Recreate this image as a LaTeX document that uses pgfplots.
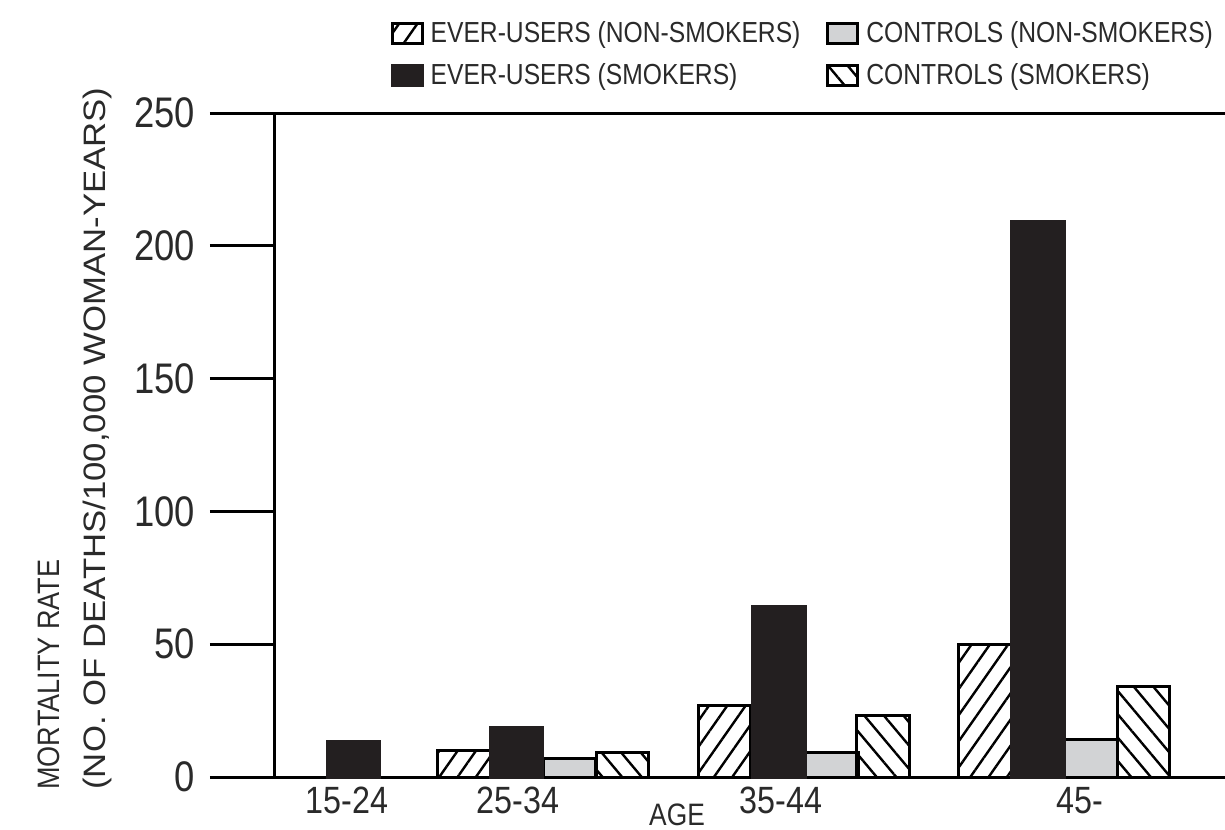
\documentclass[border=0pt]{standalone}
\usepackage{fontspec}
\setmainfont[FakeStretch=0.85]{Liberation Sans}
\usepackage{graphicx}
\usepackage{pgfplots}
\pgfplotsset{compat=1.18}
\usetikzlibrary{patterns.meta}
\definecolor{barblack}{HTML}{231F20}
\definecolor{bargray}{HTML}{D2D3D5}
\definecolor{txt}{HTML}{2A2A2A}
\begin{document}
\begin{tikzpicture}
\begin{axis}[
  scale only axis,
  width=475pt, height=332pt,
  xmin=275, xmax=1225,
  ymin=0, ymax=250,
  clip=false,
  separate axis lines,
  axis x line*=box,
  axis y line*=left,
  axis line style={line width=1.5pt, black},
  /pgf/number format/assume math mode=true,
  ytick={0,50,100,150,200,250},
  tick align=outside,
  major tick length=32.5pt,
  ytick style={line width=1.5pt, black},
  xtick={347,518,781,1080},
  xticklabels={15-24,25-34,35-44,45-},
  xtick style={draw=none},
  yticklabel style={font=\fontsize{21.4}{21.4}\selectfont, text=txt, xshift=-4pt},
  xticklabel style={font=\fontsize{19}{19}\selectfont, text=txt, yshift=31pt},
  ybar,
  bar width=26.25pt,
  legend columns=2,
  legend cell align=left,
  legend style={draw=none, at={(0.115,1.15)}, anchor=north west,
    font=\fontsize{14.5}{14.5}\selectfont, text=txt,
    /tikz/every odd column/.append style={column sep=1.5pt},
    /tikz/every even column/.append style={column sep=11pt},
    row sep=5pt},
  legend image code/.code={\draw[#1, line width=1.5pt] (0pt,-5pt) rectangle (15pt,5pt);},
]
\addplot[bar shift=0pt, draw=black, line width=1.5pt,
  pattern={Lines[angle=55, distance=7.5pt, line width=1.2pt]}, pattern color=black]
  coordinates {(464,9.9) (724.5,26.8) (985,49.8)};
\addlegendentry{EVER-USERS (NON-SMOKERS)}
\addplot[bar shift=0pt, draw=black, line width=1.5pt, fill=bargray]
  coordinates {(569.5,7.0) (832,9.1) (1091,14.3)};
\addlegendentry{CONTROLS (NON-SMOKERS)}
\addplot[bar shift=0pt, draw=barblack, line width=1.5pt, fill=barblack]
  coordinates {(353.5,13.2) (516.5,18.7) (779,64.3) (1038,209.3)};
\addlegendentry{EVER-USERS (SMOKERS)}
\addplot[bar shift=0pt, draw=black, line width=1.5pt,
  pattern={Lines[angle=-50, distance=7.5pt, line width=1.2pt]}, pattern color=black]
  coordinates {(622.5,9.2) (883,23.3) (1143.5,33.9)};
\addlegendentry{CONTROLS (SMOKERS)}
\node[rotate=90, anchor=north west, align=left, inner sep=0pt,
  font=\fontsize{15.5}{23}\selectfont, text=txt] at (axis cs:37,-4.9)
  {\resizebox{115pt}{\height}{MORTALITY RATE}\\\resizebox{351pt}{\height}{(NO. OF DEATHS/100,000 WOMAN-YEARS)}};
\node[font=\fontsize{15.5}{15.5}\selectfont, text=txt] at (axis cs:677,-14.2) {AGE};
\coordinate (bl) at (axis cs:0,-19.58);
\coordinate (tr) at (axis cs:1225,292.55);
\end{axis}
\pgfresetboundingbox
\useasboundingbox (bl) rectangle (tr);
\end{tikzpicture}
\end{document}
